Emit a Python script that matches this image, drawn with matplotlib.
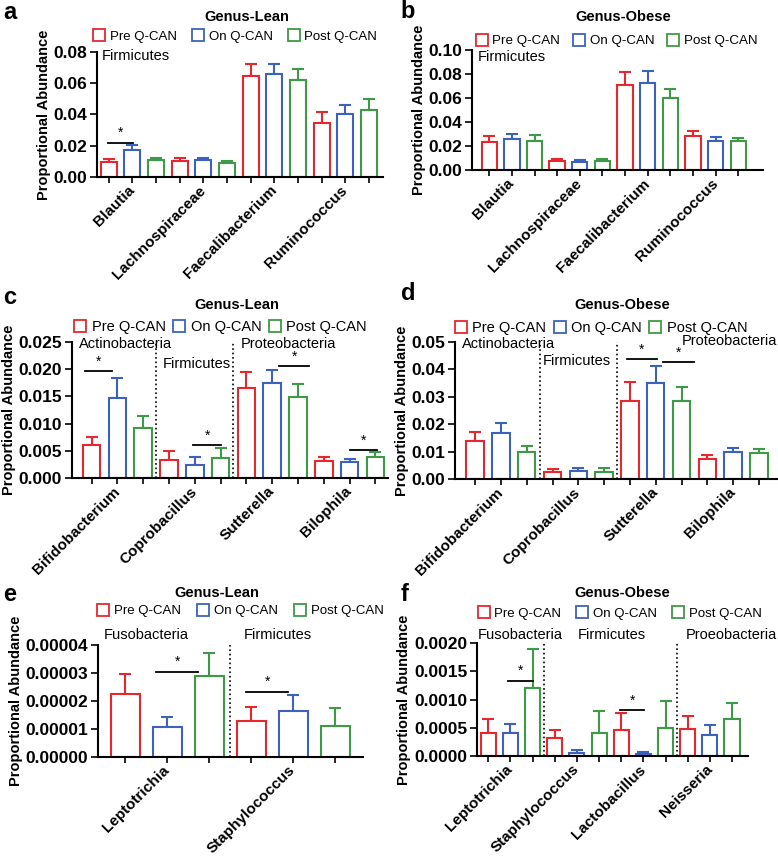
import numpy as np
import matplotlib.pyplot as plt
from matplotlib.lines import Line2D
from matplotlib.ticker import FormatStrFormatter

plt.rcParams['font.family'] = ['Liberation Sans', 'DejaVu Sans']

groups = ['Pre Q-CAN', 'On Q-CAN', 'Post Q-CAN']
colors = ['#e8262e', '#3c62bd', '#3f9a47']

# a - Genus-Lean, Firmicutes
a_genus = ['Blautia', 'Lachnospiraceae', 'Faecalibacterium', 'Ruminococcus']
a_pre = [0.0095, 0.0102, 0.0647, 0.0348]
a_on = [0.0170, 0.0106, 0.0660, 0.0401]
a_post = [0.0106, 0.0089, 0.0618, 0.0431]
a_pre_sem = [0.0022, 0.0017, 0.0079, 0.0068]
a_on_sem = [0.0034, 0.0017, 0.0064, 0.0062]
a_post_sem = [0.0015, 0.0013, 0.0072, 0.0070]

# b - Genus-Obese, Firmicutes
b_genus = ['Blautia', 'Lachnospiraceae', 'Faecalibacterium', 'Ruminococcus']
b_pre = [0.0230, 0.0075, 0.0708, 0.0283]
b_on = [0.0256, 0.0064, 0.0728, 0.0242]
b_post = [0.0242, 0.0072, 0.0603, 0.0242]
b_pre_sem = [0.0053, 0.0019, 0.0109, 0.0045]
b_on_sem = [0.0041, 0.0016, 0.0097, 0.0033]
b_post_sem = [0.0047, 0.0020, 0.0072, 0.0025]

# c - Genus-Lean, other phyla
c_genus = ['Bifidobacterium', 'Coprobacillus', 'Sutterella', 'Bilophila']
c_pre = [0.00616, 0.00335, 0.01659, 0.00317]
c_on = [0.01476, 0.00238, 0.01738, 0.00293]
c_post = [0.00927, 0.00366, 0.01482, 0.00384]
c_pre_sem = [0.00140, 0.00171, 0.00286, 0.00073]
c_on_sem = [0.00359, 0.00140, 0.00256, 0.00055]
c_post_sem = [0.00207, 0.00177, 0.00238, 0.00086]

# d - Genus-Obese, other phyla
d_genus = ['Bifidobacterium', 'Coprobacillus', 'Sutterella', 'Bilophila']
d_pre = [0.01396, 0.00243, 0.0284, 0.0074]
d_on = [0.01687, 0.0030, 0.0352, 0.0098]
d_post = [0.0097, 0.0027, 0.0284, 0.0096]
d_pre_sem = [0.00304, 0.00107, 0.0070, 0.00146]
d_on_sem = [0.0034, 0.0011, 0.0061, 0.0016]
d_post_sem = [0.00244, 0.0012, 0.0051, 0.0013]

# e - Genus-Lean, rare genera
e_genus = ['Leptotrichia', 'Staphylococcus']
e_pre = [2.245e-5, 1.29e-5]
e_on = [1.064e-5, 1.64e-5]
e_post = [2.90e-5, 1.11e-5]
e_pre_sem = [0.735e-5, 0.48e-5]
e_on_sem = [0.351e-5, 0.56e-5]
e_post_sem = [0.80e-5, 0.64e-5]

# f - Genus-Obese, rare genera
f_genus = ['Leptotrichia', 'Staphylococcus', 'Lactobacillus', 'Neisseria']
f_pre = [0.000406, 0.000313, 0.000458, 0.000475]
f_on = [0.000412, 0.0000638, 0.0000406, 0.000377]
f_post = [0.001206, 0.000412, 0.000504, 0.000661]
f_pre_sem = [0.000249, 0.000151, 0.000302, 0.000238]
f_on_sem = [0.000162, 0.000040, 0.000040, 0.000174]
f_post_sem = [0.000678, 0.000388, 0.000476, 0.000284]


def draw(ax, genus, means, sems, ylim, ystep, fmt, xlim):
    n = len(genus)
    for k in range(3):
        x = np.arange(n) * 3 + k
        ax.bar(x, means[k], width=0.68, facecolor='white', edgecolor=colors[k],
               linewidth=1.5, zorder=2)
        ax.errorbar(x, means[k], yerr=[np.zeros(n), sems[k]], fmt='none',
                    ecolor=colors[k], elinewidth=1.5, capsize=4, capthick=1.5, zorder=1)
    labels = [''] * (3 * n)
    for g in range(n):
        labels[3 * g + 1] = genus[g]
    ax.set_xticks(np.arange(3 * n))
    ax.set_xticklabels(labels, rotation=45, ha='right', va='center',
                       rotation_mode='anchor', fontweight='bold', fontsize=11)
    ax.set_xlim(*xlim)
    ax.set_ylim(*ylim)
    ax.set_yticks(np.arange(0, ylim[1] + ystep / 2, ystep))
    ax.yaxis.set_major_formatter(FormatStrFormatter(fmt))
    for t in ax.get_yticklabels():
        t.set_fontweight('bold')
        t.set_fontsize(12.5)
    ax.tick_params(axis='x', length=4, width=1.2, pad=4)
    ax.tick_params(axis='y', length=5, width=1.2, pad=2)
    ax.spines['top'].set_visible(False)
    ax.spines['right'].set_visible(False)
    ax.spines['left'].set_linewidth(1.5)
    ax.spines['bottom'].set_linewidth(1.5)
    ax.set_ylabel('Proportional Abundance', fontweight='bold', fontsize=10.5, labelpad=2)


def legend(ax, title, tx, ty, lx, ly, fs, cs):
    handles = [Line2D([], [], marker='s', ls='none', mfc='none', mec=c, ms=9, mew=1.3)
               for c in colors]
    ax.legend(handles, groups, loc='center left', bbox_to_anchor=(lx, ly), ncol=3,
              frameon=False, fontsize=fs, handlelength=0.8, handletextpad=0.4,
              columnspacing=cs, borderpad=0, borderaxespad=0)
    ax.text(tx, ty, title, transform=ax.transAxes, ha='center', va='center',
            fontweight='bold', fontsize=10.5)


def sig(ax, x0, x1, y, dy):
    ax.plot([x0, x1], [y, y], color='black', lw=1.3)
    ax.text((x0 + x1) / 2, y + dy, '*', ha='center', va='bottom', fontsize=10)


fig = plt.figure(figsize=(7.78, 8.57), dpi=100)

ax_a = fig.add_axes([0.1247, 0.7935, 0.3676, 0.1459])
ax_b = fig.add_axes([0.6067, 0.8016, 0.3740, 0.1400])
ax_c = fig.add_axes([0.0925, 0.4422, 0.4062, 0.1587])
ax_d = fig.add_axes([0.5848, 0.4411, 0.4139, 0.1599])
ax_e = fig.add_axes([0.1260, 0.1165, 0.3406, 0.1310])
ax_f = fig.add_axes([0.6131, 0.1176, 0.3483, 0.1322])

# a
draw(ax_a, a_genus, [a_pre, a_on, a_post], [a_pre_sem, a_on_sem, a_post_sem],
     (0, 0.08), 0.02, '%.2f', (-0.49, 11.59))
legend(ax_a, 'Genus-Lean', 0.524, 1.28, -0.01, 1.12, 9.5, 1.2)
ax_a.text(-0.3, 0.0775, 'Firmicutes', ha='left', va='center', fontsize=10.5)
sig(ax_a, -0.04, 1.01, 0.022, 0.0015)

# b
draw(ax_b, b_genus, [b_pre, b_on, b_post], [b_pre_sem, b_on_sem, b_post_sem],
     (0, 0.10), 0.02, '%.2f', (-0.76, 12.09))
legend(ax_b, 'Genus-Obese', 0.519, 1.275, 0.015, 1.075, 9.6, 1.0)
ax_b.text(-0.51, 0.0939, 'Firmicutes', ha='left', va='center', fontsize=10.5)

# c
draw(ax_c, c_genus, [c_pre, c_on, c_post], [c_pre_sem, c_on_sem, c_post_sem],
     (0, 0.025), 0.005, '%.3f', (-0.76, 11.49))
legend(ax_c, 'Genus-Lean', 0.522, 1.27, 0.008, 1.11, 10.5, 0.5)
for xv in [2.5, 5.5]:
    ax_c.axvline(xv, color='black', ls=':', lw=1.2)
ax_c.text(-0.5, 0.0247, 'Actinobacteria', ha='left', va='center', fontsize=10.5)
ax_c.text(2.75, 0.0209, 'Firmicutes', ha='left', va='center', fontsize=10.5)
ax_c.text(5.78, 0.0247, 'Proteobacteria', ha='left', va='center', fontsize=10.5)
sig(ax_c, -0.27, 0.81, 0.01963, 0.0004)
sig(ax_c, 3.95, 5.0, 0.0061, 0.0004)
sig(ax_c, 7.28, 8.44, 0.02055, 0.0004)
sig(ax_c, 10.0, 11.05, 0.00524, 0.0004)

# d
draw(ax_d, d_genus, [d_pre, d_on, d_post], [d_pre_sem, d_on_sem, d_post_sem],
     (0, 0.05), 0.01, '%.2f', (-0.78, 11.7))
legend(ax_d, 'Genus-Obese', 0.519, 1.27, 0.0, 1.10, 10.5, 0.5)
for xv in [2.5, 5.5]:
    ax_d.axvline(xv, color='black', ls=':', lw=1.2)
ax_d.text(-0.52, 0.0491, 'Actinobacteria', ha='left', va='center', fontsize=10.5)
ax_d.text(2.61, 0.0430, 'Firmicutes', ha='left', va='center', fontsize=10.5)
ax_d.text(8.01, 0.0502, 'Proteobacteria', ha='left', va='center', fontsize=10.5)
sig(ax_d, 5.88, 7.04, 0.0438, 0.0008)
sig(ax_d, 7.3, 8.49, 0.0426, 0.0008)

# e
draw(ax_e, e_genus, [e_pre, e_on, e_post], [e_pre_sem, e_on_sem, e_post_sem],
     (0, 0.00004), 0.00001, '%.5f', (-0.65, 5.66))
legend(ax_e, 'Genus-Lean', 0.449, 1.46, 0.0, 1.30, 9.5, 1.3)
ax_e.axvline(2.5, color='black', ls=':', lw=1.2)
ax_e.text(-0.51, 4.37e-5, 'Fusobacteria', ha='left', va='center', fontsize=10.5, clip_on=False)
ax_e.text(2.83, 4.37e-5, 'Firmicutes', ha='left', va='center', fontsize=10.5, clip_on=False)
sig(ax_e, 0.74, 1.73, 3.04e-5, 0.1e-5)
sig(ax_e, 2.88, 3.87, 2.32e-5, 0.1e-5)

# f
draw(ax_f, f_genus, [f_pre, f_on, f_post], [f_pre_sem, f_on_sem, f_post_sem],
     (0, 0.002), 0.0005, '%.4f', (-0.51, 11.72))
legend(ax_f, 'Genus-Obese', 0.535, 1.44, 0.005, 1.26, 9.5, 1.2)
for xv in [2.5, 8.5]:
    ax_f.axvline(xv, color='black', ls=':', lw=1.2)
ax_f.text(-0.46, 0.002145, 'Fusobacteria', ha='left', va='center', fontsize=10.5)
ax_f.text(4.06, 0.002145, 'Firmicutes', ha='left', va='center', fontsize=10.5)
ax_f.text(8.9, 0.002145, 'Proeobacteria', ha='left', va='center', fontsize=10.5)
sig(ax_f, 0.88, 2.0, 0.001333, 0.00005)
sig(ax_f, 5.95, 7.03, 0.000812, 0.00005)

for lx, ly, s in [(0.004, 0.985, 'a'), (0.515, 0.986, 'b'), (0.004, 0.653, 'c'),
                  (0.515, 0.658, 'd'), (0.004, 0.306, 'e'), (0.515, 0.306, 'f')]:
    fig.text(lx, ly, s, fontsize=17, fontweight='bold', ha='left', va='center')

fig.savefig('out.png', dpi=100)
